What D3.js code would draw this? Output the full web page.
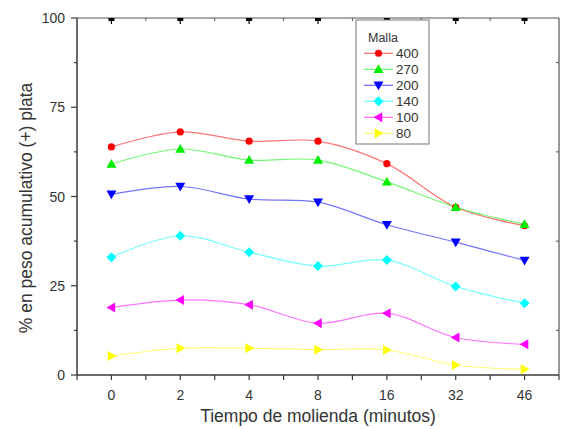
<!DOCTYPE html>
<html><head><meta charset="utf-8">
<script src="https://cdn.jsdelivr.net/npm/d3@7"></script>
<style>
body{margin:0;background:#fff;}
text{font-family:Arial,"Liberation Sans",sans-serif;fill:#333;}
</style></head>
<body><svg id="c" width="565" height="429"></svg>
<script>
const categories = ["0","2","4","8","16","32","46"];
const seriesNames = ["400","270","200","140","100","80"];
const colors = ["#ff0000","#00ee00","#0000ff","#00ffff","#ff00ff","#ffff00"];
const markers = ["circle","triUp","triDown","diamond","triLeft","triRight"];
const v400 = [63.9, 68.1, 65.5, 65.5, 59.2, 47.0, 41.8];
const v270 = [59.1, 63.3, 60.2, 60.2, 54.1, 47.0, 42.2];
const v200 = [50.6, 52.8, 49.3, 48.4, 42.1, 37.2, 32.1];
const v140 = [33.0, 39.0, 34.4, 30.5, 32.2, 24.8, 20.1];
const v100 = [18.9, 21.0, 19.7, 14.5, 17.3, 10.5, 8.6];
const v80  = [5.3, 7.5, 7.5, 7.1, 7.0, 2.8, 1.6];
const values = [v400, v270, v200, v140, v100, v80];
const yTicks = [0, 25, 50, 75, 100];
const yMinor = [12.5, 37.5, 62.5, 87.5];

const svg = d3.select("#c");
const L = 77, R = 559, T = 18, B = 375;
const x = d3.scalePoint().domain(categories).range([L, R]).padding(0.5);
const y = d3.scaleLinear().domain([0, 100]).range([B, T]);
const step = x.step();
const mids = categories.map(c => x(c) - step/2).concat([x(categories[categories.length-1]) + step/2]);

function markerPath(type, s) {
  const h = s;
  switch(type){
    case "circle": return d3.symbol(d3.symbolCircle, 40)();
    case "triUp": return `M0,${-h}L${h},${h*0.75}L${-h},${h*0.75}Z`;
    case "triDown": return `M0,${h}L${h},${-h*0.75}L${-h},${-h*0.75}Z`;
    case "triLeft": return `M${-h},0L${h*0.75},${-h}L${h*0.75},${h}Z`;
    case "triRight": return `M${h},0L${-h*0.75},${-h}L${-h*0.75},${h}Z`;
    case "diamond": return `M0,${-h}L${h},0L0,${h}L${-h},0Z`;
  }
}

const axisCol = "#3a3a3a";
const g = svg.append("g");
g.append("line").attr("x1",L).attr("x2",R).attr("y1",B).attr("y2",B).attr("stroke",axisCol).attr("stroke-width",1.5);
g.append("line").attr("x1",L).attr("x2",L).attr("y1",T).attr("y2",B).attr("stroke",axisCol).attr("stroke-width",1.5);
g.append("line").attr("x1",L).attr("x2",R).attr("y1",T).attr("y2",T).attr("stroke","#555").attr("stroke-width",1.2);
g.append("line").attr("x1",R).attr("x2",R).attr("y1",T).attr("y2",B).attr("stroke","#555").attr("stroke-width",1.2);

categories.forEach(c => {
  g.append("line").attr("x1",x(c)).attr("x2",x(c)).attr("y1",B).attr("y2",B+5).attr("stroke",axisCol).attr("stroke-width",1.2);
  g.append("text").attr("x",x(c)).attr("y",B+25).attr("text-anchor","middle").attr("font-size",14).text(c);
});
mids.forEach(m => {
  g.append("line").attr("x1",m).attr("x2",m).attr("y1",B).attr("y2",B+5).attr("stroke",axisCol).attr("stroke-width",1.2);
  if (m > L + 1 && m < R - 1)
    g.append("line").attr("x1",m).attr("x2",m).attr("y1",T).attr("y2",T+3).attr("stroke","#555").attr("stroke-width",1);
});
categories.forEach(c => {
  g.append("rect").attr("x",x(c)-3).attr("y",T).attr("width",6).attr("height",3).attr("fill","#000");
  g.append("line").attr("x1",x(c)).attr("x2",x(c)).attr("y1",T).attr("y2",T+6).attr("stroke","#000").attr("stroke-width",1.2);
});
yTicks.forEach(t => {
  g.append("line").attr("x1",L-6).attr("x2",L).attr("y1",y(t)).attr("y2",y(t)).attr("stroke",axisCol).attr("stroke-width",1.2);
  g.append("text").attr("x",L-12).attr("y",y(t)+5).attr("text-anchor","end").attr("font-size",14).text(t);
});
yMinor.forEach(t => {
  g.append("line").attr("x1",L-3).attr("x2",L).attr("y1",y(t)).attr("y2",y(t)).attr("stroke",axisCol).attr("stroke-width",1.2);
  g.append("line").attr("x1",R-3).attr("x2",R).attr("y1",y(t)).attr("y2",y(t)).attr("stroke","#555").attr("stroke-width",1);
});

svg.append("text").attr("x",318).attr("y",422).attr("text-anchor","middle").attr("font-size",17.5).text("Tiempo de molienda (minutos)");
svg.append("text").attr("transform","translate(32,208) rotate(-90)").attr("text-anchor","middle").attr("font-size",17.5).text("% en peso acumulativo (+) plata");

const line = d3.line().x((d,i) => x(categories[i])).y(d => y(d)).curve(d3.curveCatmullRom.alpha(0.5));
values.forEach((vals, si) => {
  svg.append("path").attr("d", line(vals)).attr("fill","none").attr("stroke",colors[si]).attr("stroke-opacity",0.55).attr("stroke-width",1.2);
});
values.forEach((vals, si) => {
  svg.append("g").selectAll("path").data(vals).join("path")
    .attr("transform",(d,i) => `translate(${x(categories[i])},${y(d)})`)
    .attr("d", markerPath(markers[si], 5))
    .attr("fill", colors[si]);
});

const lg = svg.append("g");
lg.append("rect").attr("x",356).attr("y",20).attr("width",73).attr("height",124).attr("fill","#fff").attr("stroke","#777").attr("stroke-width",1);
lg.append("text").attr("x",368).attr("y",42).attr("font-size",12.5).text("Malla");
seriesNames.forEach((n, i) => {
  const yy = 53.3 + i*16;
  lg.append("line").attr("x1",364).attr("x2",393).attr("y1",yy).attr("y2",yy).attr("stroke",colors[i]).attr("stroke-opacity",0.6).attr("stroke-width",1.2);
  lg.append("path").attr("transform",`translate(378.5,${yy})`).attr("d",markerPath(markers[i],5)).attr("fill",colors[i]);
  lg.append("text").attr("x",396).attr("y",yy+5).attr("font-size",13.5).text(n);
});
</script></body></html>
